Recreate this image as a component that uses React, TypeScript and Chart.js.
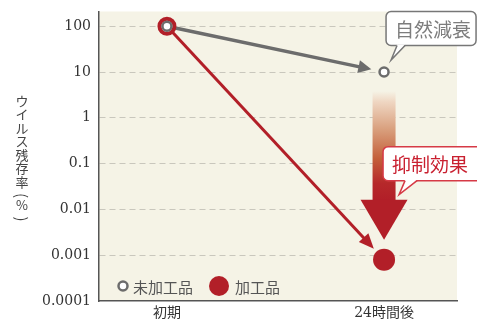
import React, { useEffect, useRef } from 'react';
import { Chart, registerables } from 'chart.js';

Chart.register(...registerables);

const X_VALUES = [0, 1];
const X_LABELS = ['初期', '24時間後'];
const UNPROCESSED = [100, 10];
const PROCESSED = [100, 0.0008];
const Y_TICKS = [0.0001, 0.001, 0.01, 0.1, 1, 10, 100];
const Y_TICK_LABELS = ['0.0001', '0.001', '0.01', '0.1', '1', '10', '100'];
const Y_TITLE = 'ウイルス残存率（%）';
const SERIES_NAMES = ['未加工品', '加工品'];
const CALLOUT_NATURAL = '自然減衰';
const CALLOUT_EFFECT = '抑制効果';

const RED = '#b21f28';
const GRAY = '#6c6c6c';
const BG = '#f5f3e6';
const SERIF = "'DejaVu Serif', 'Noto Sans CJK JP', serif";
const CJK = "'Noto Sans CJK JP', sans-serif";

function drawArrow(ctx: CanvasRenderingContext2D, x0: number, y0: number, x1: number, y1: number, gap: number, color: string, lw: number, headLen: number, headHalf: number) {
  const dx = x1 - x0, dy = y1 - y0;
  const L = Math.hypot(dx, dy);
  const ux = dx / L, uy = dy / L;
  const tx = x1 - ux * gap, ty = y1 - uy * gap;
  const bx = tx - ux * headLen, by = ty - uy * headLen;
  ctx.save();
  ctx.strokeStyle = color;
  ctx.fillStyle = color;
  ctx.lineWidth = lw;
  ctx.beginPath();
  ctx.moveTo(x0, y0);
  ctx.lineTo(bx + ux, by + uy);
  ctx.stroke();
  ctx.beginPath();
  ctx.moveTo(tx, ty);
  ctx.lineTo(bx - uy * headHalf, by + ux * headHalf);
  ctx.lineTo(bx + uy * headHalf, by - ux * headHalf);
  ctx.closePath();
  ctx.fill();
  ctx.restore();
}

function drawCallout(ctx: CanvasRenderingContext2D, x: number, y: number, w: number, h: number, tailB0: number, tailB1: number, tipX: number, tipY: number, stroke: string, textColor: string, text: string) {
  ctx.save();
  ctx.lineWidth = 1.5;
  ctx.strokeStyle = stroke;
  ctx.fillStyle = '#ffffff';
  ctx.beginPath();
  ctx.roundRect(x, y, w, h, 5);
  ctx.fill();
  ctx.stroke();
  ctx.beginPath();
  ctx.moveTo(tailB0, y + h - 1);
  ctx.lineTo(tipX, tipY);
  ctx.lineTo(tailB1, y + h - 1);
  ctx.closePath();
  ctx.fill();
  ctx.beginPath();
  ctx.moveTo(tailB0, y + h);
  ctx.lineTo(tipX, tipY);
  ctx.lineTo(tailB1, y + h);
  ctx.stroke();
  ctx.fillStyle = textColor;
  ctx.font = `19px ${CJK}`;
  ctx.textAlign = 'left';
  ctx.textBaseline = 'middle';
  ctx.fillText(text, x + 9, y + h / 2 + 1);
  ctx.restore();
}

const decorPlugin = {
  id: 'decor',
  beforeDraw(chart: any) {
    const { ctx, chartArea: a } = chart;
    ctx.save();
    ctx.fillStyle = BG;
    ctx.fillRect(a.left, a.top, a.right - a.left, a.bottom - a.top);
    ctx.restore();
  },
  beforeDatasetsDraw(chart: any) {
    const { ctx } = chart;
    const xs = chart.scales.x, ys = chart.scales.y;
    const x0 = xs.getPixelForValue(X_VALUES[0]);
    const x1 = xs.getPixelForValue(X_VALUES[1]);
    const yU0 = ys.getPixelForValue(UNPROCESSED[0]);
    const yU1 = ys.getPixelForValue(UNPROCESSED[1]);
    const yP0 = ys.getPixelForValue(PROCESSED[0]);
    const yP1 = ys.getPixelForValue(PROCESSED[1]);

    const top = yU1 + 19;
    const tip = yP1 - 20;
    const headBase = tip - 40;
    const g = ctx.createLinearGradient(0, top, 0, headBase);
    g.addColorStop(0, 'rgba(240,215,195,0)');
    g.addColorStop(0.1, '#efd6c2');
    g.addColorStop(0.35, '#d9a07e');
    g.addColorStop(0.62, '#c4603a');
    g.addColorStop(0.85, '#b6282a');
    g.addColorStop(1, RED);
    ctx.save();
    ctx.fillStyle = g;
    ctx.fillRect(x1 - 11.5, top, 23, headBase - top + 1);
    ctx.fillStyle = RED;
    ctx.beginPath();
    ctx.moveTo(x1 - 23.5, headBase);
    ctx.lineTo(x1 + 23.5, headBase);
    ctx.lineTo(x1, tip);
    ctx.closePath();
    ctx.fill();
    ctx.restore();

    drawArrow(ctx, x0, yP0, x1, yP1, 15, RED, 3, 15, 6.5);
    drawArrow(ctx, x0, yU0, x1, yU1, 13, GRAY, 3.5, 13, 6.5);
  },
  afterDraw(chart: any) {
    const { ctx, chartArea: a } = chart;
    const xs = chart.scales.x, ys = chart.scales.y;
    const x1 = xs.getPixelForValue(X_VALUES[1]);
    const yU1 = ys.getPixelForValue(UNPROCESSED[1]);
    const yP1 = ys.getPixelForValue(PROCESSED[1]);

    drawCallout(ctx, x1 + 2, a.top, 90, 34, x1 + 13, x1 + 21, x1 + 7, yU1 - 12, '#777777', '#7d7d7d', CALLOUT_NATURAL);
    drawCallout(ctx, x1 - 1, yP1 - 113, 100, 34, x1 + 21, x1 + 33, x1 + 15, yP1 - 65, '#d63a46', '#c92030', CALLOUT_EFFECT);

    const ly = a.bottom - 15;
    ctx.save();
    ctx.lineWidth = 2.5;
    ctx.strokeStyle = GRAY;
    ctx.fillStyle = '#ffffff';
    ctx.beginPath();
    ctx.arc(a.left + 24, ly, 4.5, 0, Math.PI * 2);
    ctx.fill();
    ctx.stroke();
    ctx.fillStyle = RED;
    ctx.beginPath();
    ctx.arc(a.left + 120, ly, 10, 0, Math.PI * 2);
    ctx.fill();
    ctx.fillStyle = '#555555';
    ctx.font = `15px ${CJK}`;
    ctx.textBaseline = 'middle';
    ctx.textAlign = 'left';
    ctx.fillText(SERIES_NAMES[0], a.left + 34, ly + 1);
    ctx.fillText(SERIES_NAMES[1], a.left + 136, ly + 1);

    ctx.fillStyle = '#444444';
    ctx.font = `13px ${CJK}`;
    ctx.textAlign = 'center';
    const chars = Array.from(Y_TITLE);
    let yy = 101;
    chars.forEach((c) => {
      if (c === '（' || c === '）' || c === '(' || c === ')') {
        ctx.save();
        ctx.translate(22, yy);
        ctx.rotate(Math.PI / 2);
        ctx.font = `15px ${CJK}`;
        ctx.fillText(c === '（' || c === '(' ? '(' : ')', 0, 0);
        ctx.restore();
        yy += 10;
      } else {
        ctx.fillText(c, 22, yy);
        yy += 13.5;
      }
    });
    ctx.restore();
  },
};

export default function App() {
  const ref = useRef<HTMLCanvasElement | null>(null);
  useEffect(() => {
    if (!ref.current) return;
    document.body.style.margin = '0';
    const chart = new Chart(ref.current, {
      type: 'scatter',
      data: {
        datasets: [
          {
            label: SERIES_NAMES[0],
            data: X_VALUES.map((x, i) => ({ x, y: UNPROCESSED[i] })),
            showLine: false,
            order: 0,
            pointRadius: 4.5,
            pointBackgroundColor: '#ffffff',
            pointBorderColor: GRAY,
            pointBorderWidth: 2.5,
          },
          {
            label: SERIES_NAMES[1],
            data: X_VALUES.map((x, i) => ({ x, y: PROCESSED[i] })),
            showLine: false,
            order: 1,
            pointRadius: [7.5, 11],
            pointBackgroundColor: ['#ffffff', RED],
            pointBorderColor: RED,
            pointBorderWidth: [4, 0],
          },
        ],
      },
      options: {
        responsive: false,
        animation: false,
        layout: { padding: { left: 0, top: 7, right: 20, bottom: 0 } },
        plugins: { legend: { display: false }, tooltip: { enabled: false } },
        scales: {
          x: {
            type: 'linear',
            min: -0.313,
            max: 1.336,
            afterFit: (s: any) => { s.height = 23; s.paddingLeft = 0; s.paddingRight = 0; },
            afterBuildTicks: (s: any) => { s.ticks = X_VALUES.map((v) => ({ value: v })); },
            grid: { display: false, drawTicks: false },
            border: { display: true, color: '#555555', width: 1.5 },
            ticks: {
              autoSkip: false,
              maxRotation: 0,
              padding: 5,
              color: '#333333',
              font: { size: 14, family: SERIF, lineHeight: 1 },
              callback: (v: any) => X_LABELS[X_VALUES.indexOf(Number(v))] ?? '',
            },
          },
          y: {
            type: 'logarithmic',
            min: 0.0001,
            max: 210,
            afterFit: (s: any) => { s.width = 99; s.paddingTop = 0; s.paddingBottom = 0; },
            afterBuildTicks: (s: any) => { s.ticks = Y_TICKS.map((v) => ({ value: v })); },
            grid: {
              drawTicks: false,
              lineWidth: 1,
              color: (c: any) => (c.tick && c.tick.value === Y_TICKS[0] ? 'rgba(0,0,0,0)' : '#c9c7bd'),
            },
            border: { display: true, color: '#555555', width: 1.5, dash: [6, 4] },
            ticks: {
              autoSkip: false,
              padding: 8,
              color: '#333333',
              font: { size: 14, family: SERIF, lineHeight: 1 },
              callback: (v: any) => {
                const i = Y_TICKS.findIndex((t) => Math.abs(t - Number(v)) / t < 1e-6);
                return i >= 0 ? Y_TICK_LABELS[i] : '';
              },
            },
          },
        },
      },
      plugins: [decorPlugin],
    } as any);
    return () => chart.destroy();
  }, []);
  return (
    <div style={{ position: 'absolute', left: 0, top: 0, width: 477, height: 324 }}>
      <canvas ref={ref} width={477} height={324} style={{ width: 477, height: 324 }} />
    </div>
  );
}
